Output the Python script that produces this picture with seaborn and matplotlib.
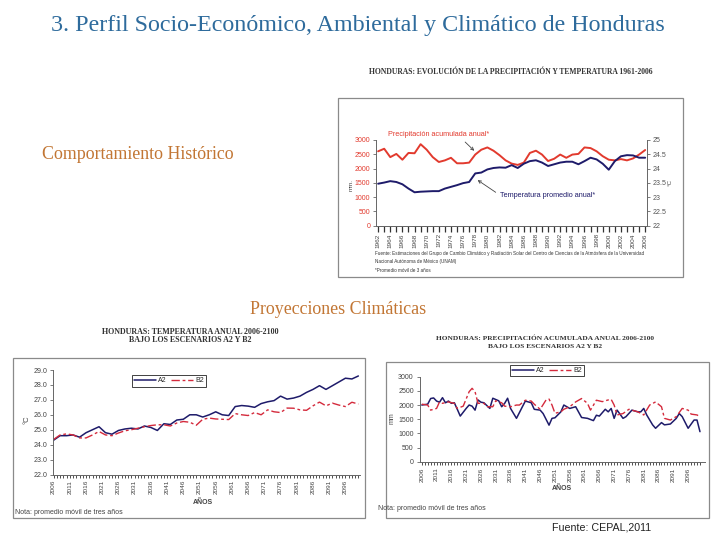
import numpy as np
import pandas as pd
import seaborn as sns
import matplotlib.pyplot as plt
from matplotlib.patches import Rectangle

sns.set_style("white")
plt.rcParams['font.family'] = ['Liberation Sans', 'DejaVu Sans']

# ---------------------------------------------------------------------------
# datos historicos (promedio movil 3 años)
hist_years = list(range(1962, 2007))
hist_precip = [2604, 2694, 2400, 2513, 2310, 2547, 2536, 2853, 2660, 2400,
               2230, 2287, 2377, 2185, 2185, 2208, 2490, 2660, 2740, 2626,
               2468, 2287, 2174, 2128, 2208, 2547, 2626, 2490, 2264, 2343,
               2490, 2377, 2490, 2513, 2740, 2717, 2604, 2434, 2310, 2287,
               2332, 2287, 2355, 2490, 2649]
hist_temp = [23.47, 23.51, 23.56, 23.53, 23.45, 23.30, 23.17, 23.19, 23.20, 23.21,
             23.21, 23.30, 23.36, 23.42, 23.49, 23.53, 23.83, 23.86, 23.97, 24.02,
             24.04, 24.03, 24.12, 24.02, 24.17, 24.26, 24.29, 24.21, 24.09, 24.15,
             24.21, 24.24, 24.24, 24.15, 24.26, 24.38, 24.32, 24.17, 23.96, 24.26,
             24.43, 24.47, 24.46, 24.38, 24.38]

# proyecciones de temperatura 2006-2100
proj_years = list(range(2006, 2101, 2))
temp_a2 = [24.3, 24.6, 24.6, 24.65, 24.5, 24.8, 25.0, 25.2, 24.8, 24.7,
           24.95, 25.05, 25.1, 25.05, 25.25, 25.15, 24.95, 25.4, 25.35, 25.65,
           25.7, 26.0, 26.0, 25.85, 26.0, 26.2, 26.0, 25.95, 26.55, 26.62,
           26.58, 26.5, 26.75, 26.87, 26.95, 27.25, 27.05, 27.12, 27.25, 27.5,
           27.7, 27.95, 27.7, 27.95, 28.2, 28.45, 28.4, 28.6]
temp_b2 = [24.35, 24.65, 24.72, 24.65, 24.45, 24.45, 24.65, 24.88, 24.65, 24.6,
           24.78, 24.93, 25.0, 25.1, 25.2, 25.28, 25.33, 25.33, 25.25, 25.45,
           25.55, 25.5, 25.3, 25.7, 25.78, 25.72, 25.7, 25.68, 26.08, 26.0,
           25.95, 26.15, 26.0, 26.33, 26.2, 26.15, 26.45, 26.44, 26.33, 26.3,
           26.6, 26.85, 26.6, 26.78, 26.65, 26.55, 26.84, 26.72]

# proyecciones de precipitacion 2006-2100
pa2_years = [2006, 2008, 2009, 2010, 2011, 2012, 2013, 2014, 2015, 2016,
             2017, 2018, 2019, 2021, 2022, 2023, 2024, 2025, 2026, 2027,
             2029, 2030, 2032, 2033, 2034, 2035, 2036, 2038, 2040, 2041,
             2043, 2044, 2046, 2047, 2049, 2050, 2051, 2053, 2054, 2056,
             2058, 2060, 2062, 2064, 2065, 2066, 2068, 2069, 2070, 2071,
             2072, 2074, 2075, 2077, 2079, 2080, 2081, 2082, 2084, 2085,
             2087, 2088, 2090, 2092, 2093, 2094, 2096, 2098, 2099, 2100]
precip_a2 = [2000, 2030, 2230, 2250, 2140, 2100, 2260, 2080, 2140, 2060,
             2080, 1850, 1610, 1880, 2000, 1960, 1820, 2180, 2100, 2080,
             1880, 2240, 2150, 1940, 2060, 2240, 1880, 1530, 1940, 2140,
             2080, 1850, 1820, 1700, 1290, 1530, 1550, 1760, 2000, 1880,
             1940, 1560, 1530, 1450, 1640, 1610, 1850, 1760, 1880, 1530,
             1820, 1530, 1590, 1820, 1760, 1760, 1880, 1650, 1300, 1180,
             1380, 1300, 1330, 1530, 1700, 1590, 1180, 1470, 1470, 1060]
pb2_years = [2006, 2008, 2009, 2010, 2011, 2012, 2013, 2015, 2017, 2018,
             2020, 2022, 2023, 2024, 2025, 2027, 2028, 2030, 2031, 2033,
             2034, 2036, 2038, 2039, 2041, 2043, 2044, 2046, 2048, 2049,
             2050, 2051, 2053, 2054, 2056, 2058, 2060, 2062, 2063, 2065,
             2067, 2069, 2070, 2071, 2072, 2074, 2076, 2077, 2079, 2081,
             2083, 2085, 2087, 2088, 2090, 2092, 2094, 2096, 2097, 2099, 2100]
precip_b2 = [2030, 2000, 1820, 1850, 1880, 2110, 2060, 2110, 2060, 1880,
             1960, 2470, 2590, 2470, 2060, 2060, 1940, 1940, 2150, 2080,
             1960, 1940, 2000, 2000, 2170, 2140, 2030, 1850, 2180, 2210,
             2000, 1710, 1760, 1850, 1940, 2110, 2230, 2060, 1820, 2170,
             2120, 2180, 2200, 2000, 1650, 1700, 1850, 1820, 1760, 1650,
             2000, 2110, 1940, 1530, 1470, 1590, 1880, 1820, 1680, 1650, 1590]

# ---------------------------------------------------------------------------
W, H = 720, 540
def px_rect(x0, y0, x1, y1):
    return [x0 / W, 1 - y1 / H, (x1 - x0) / W, (y1 - y0) / H]
def fx(x):
    return x / W
def fy(y):
    return 1 - y / H

red = '#e23a2e'
navy = '#1e1b6a'
b2red = '#d42a3c'
gray = '#666666'
serif = ['Liberation Serif', 'DejaVu Serif']

fig = plt.figure(figsize=(7.2, 5.4), dpi=100)
fig.patch.set_facecolor('white')

def box(x0, y0, x1, y1):
    fig.patches.append(Rectangle((fx(x0), fy(y1)), (x1 - x0) / W, (y1 - y0) / H,
                                 transform=fig.transFigure, fill=False,
                                 edgecolor='#8a8a8a', lw=0.9))

# titulos de la diapositiva
fig.text(fx(358), fy(26), '3. Perfil Socio-Económico, Ambiental y Climático de Honduras',
         family=serif, size=17.3, color='#2e6b9c', ha='center', va='center')
fig.text(fx(42), fy(155), 'Comportamiento Histórico', family=serif, size=12.9,
         color='#c27634', va='center')
fig.text(fx(250), fy(310), 'Proyecciones Climáticas', family=serif, size=12.9,
         color='#c27634', va='center')
fig.text(fx(552), fy(528), 'Fuente: CEPAL,2011', size=7.7, color='#222222', va='center')

# ---------------------------------------------------------------------------
# grafico historico
fig.text(fx(511), fy(72), 'HONDURAS: EVOLUCIÓN DE LA PRECIPITACIÓN Y TEMPERATURA 1961-2006',
         family=serif, weight='bold', size=5.5, ha='center', va='center', color='#333333')
box(337.7, 98.3, 683, 276.7)

ax1 = fig.add_axes(px_rect(375.7, 140, 647, 225.7))
sns.lineplot(x=hist_years, y=hist_precip, ax=ax1, color=red, lw=1.4)
ax1.set_ylim(0, 3000)
ax1.set_xlim(1961.6, 2006.3)
ax1.set_yticks(range(0, 3001, 500))
ax1.tick_params(axis='y', labelsize=5, labelcolor=red, length=2, width=0.6, color=gray, pad=2)
ax1.set_xticks(range(1962, 2007, 2))
ax1.set_xticks(range(1962, 2007), minor=True)
ax1.set_xticklabels([str(y) for y in range(1962, 2007, 2)], rotation=90)
ax1.tick_params(axis='x', which='both', labelsize=4.6, labelcolor='#444444', length=4,
                width=0.9, color='#333333', bottom=True, pad=1.5)
ax2 = ax1.twinx()
sns.lineplot(x=hist_years, y=hist_temp, ax=ax2, color=navy, lw=1.4)
ax2.set_ylim(22, 25)
ax2.set_yticks([22, 22.5, 23, 23.5, 24, 24.5, 25])
ax2.set_yticklabels(['22', '22.5', '23', '23.5', '24', '24.5', '25'])
ax2.tick_params(axis='y', labelsize=5, labelcolor='#555555', length=2, width=0.6,
                color=gray, pad=2)
for a in (ax1, ax2):
    a.set_facecolor('none')
    a.spines['top'].set_visible(False)
    for s in ('left', 'right', 'bottom'):
        a.spines[s].set_color(gray)
        a.spines[s].set_linewidth(0.7)
    a.set_xlabel('')
    a.set_ylabel('')
ax1.spines['right'].set_visible(False)
ax2.spines['left'].set_visible(False)

ax1.annotate('Precipitación acumulada anual*', xy=(1978.0, 2590), xytext=(1963.6, 3200),
             color=red, size=5.2, va='center', annotation_clip=False,
             arrowprops=dict(arrowstyle='->', color='#444444', lw=0.6, relpos=(0.72, 0.0),
                             shrinkA=1, shrinkB=1))
ax1.annotate('Temperatura promedio anual*', xy=(1978.2, 1624), xytext=(1982.1, 1040),
             color=navy, size=5.2, va='center',
             arrowprops=dict(arrowstyle='->', color='#444444', lw=0.6, relpos=(0.0, 0.6),
                             shrinkA=1, shrinkB=1))
fig.text(fx(351), fy(185), 'mm.', rotation=90, size=4.5, ha='center', va='center', color='#444444')
fig.text(fx(670), fy(183), '°C', rotation=90, size=4.5, ha='center', va='center', color='#444444')
fig.text(fx(375), fy(254), 'Fuente: Estimaciones del Grupo de Cambio Climático y Radiación Solar del '
         'Centro de Ciencias de la Atmósfera de la Universidad', size=3.3, va='center', color='#333333')
fig.text(fx(375), fy(262), 'Nacional Autónoma de México (UNAM)', size=3.3, va='center', color='#333333')
fig.text(fx(375), fy(270), '*Promedio móvil de 3 años', size=3.3, va='center', color='#333333')

# ---------------------------------------------------------------------------
# proyeccion de temperatura
fig.text(fx(190), fy(332), 'HONDURAS: TEMPERATURA ANUAL 2006-2100', family=serif,
         weight='bold', size=5.8, ha='center', va='center', color='#333333')
fig.text(fx(190), fy(340), 'BAJO LOS ESCENARIOS A2 Y B2', family=serif,
         weight='bold', size=5.8, ha='center', va='center', color='#333333')
box(13.3, 358.3, 365, 517.7)

ax3 = fig.add_axes(px_rect(53.3, 370, 360, 474.5))
sns.lineplot(x=proj_years, y=temp_a2, ax=ax3, color=navy, lw=1.1, label='A2')
sns.lineplot(x=proj_years, y=temp_b2, ax=ax3, color=b2red, lw=1.0,
             linestyle=(0, (6, 2, 2, 2)), label='B2')
ax3.set_ylim(22, 29)
ax3.set_xlim(2005.9, 2100.5)
ax3.set_yticks(range(22, 30))
ax3.set_yticklabels(['%.1f' % v for v in range(22, 30)])
ax3.set_xticks(range(2006, 2100, 5))
ax3.set_xticks(range(2006, 2101), minor=True)
ax3.set_xticklabels([str(y) for y in range(2006, 2100, 5)], rotation=90)
ax3.tick_params(axis='y', labelsize=5, labelcolor='#444444', length=2.5, width=0.6,
                color=gray, left=True, pad=2)
ax3.tick_params(axis='x', which='both', labelsize=4.6, labelcolor='#444444', length=2.5,
                width=0.6, color='#333333', bottom=True, pad=1.5)
ax3.legend(loc='center', bbox_to_anchor=(fx(169), fy(381)), bbox_transform=fig.transFigure,
           ncol=2, fontsize=5, frameon=True, fancybox=False, edgecolor='#222222',
           handlelength=3.2, borderpad=0.3, columnspacing=0.6, handletextpad=0.3,
           framealpha=1).get_frame().set_linewidth(0.6)
fig.text(fx(27), fy(420), '°C', rotation=90, size=5.5, ha='center', va='center', color='#444444')
fig.text(fx(203), fy(503), 'AÑOS', weight='bold', size=5, ha='center', va='center', color='#444444')
fig.text(fx(15), fy(512), 'Nota: promedio móvil de tres años', size=5, va='center', color='#444444')

# ---------------------------------------------------------------------------
# proyeccion de precipitacion
fig.text(fx(545), fy(338), 'HONDURAS: PRECIPITACIÓN ACUMULADA ANUAL 2006-2100', family=serif,
         weight='bold', size=5.3, ha='center', va='center', color='#333333')
fig.text(fx(545), fy(346.5), 'BAJO LOS ESCENARIOS A2 Y B2', family=serif,
         weight='bold', size=5.3, ha='center', va='center', color='#333333')
box(386, 362, 709, 518)

ax4 = fig.add_axes(px_rect(420, 376.7, 705, 461.7))
sns.lineplot(x=pa2_years, y=precip_a2, ax=ax4, color=navy, lw=1.1, label='A2')
sns.lineplot(x=pb2_years, y=precip_b2, ax=ax4, color=b2red, lw=1.0,
             linestyle=(0, (6, 2, 2, 2)), label='B2')
ax4.set_ylim(0, 3000)
ax4.set_xlim(2005.4, 2101.7)
ax4.set_yticks(range(0, 3001, 500))
ax4.set_xticks(range(2006, 2100, 5))
ax4.set_xticks(range(2006, 2101), minor=True)
ax4.set_xticklabels([str(y) for y in range(2006, 2100, 5)], rotation=90)
ax4.tick_params(axis='y', labelsize=5, labelcolor='#444444', length=2.5, width=0.6,
                color=gray, left=True, pad=2)
ax4.tick_params(axis='x', which='both', labelsize=4.6, labelcolor='#444444', length=2.5,
                width=0.6, color='#333333', bottom=True, pad=1.5)
ax4.legend(loc='center', bbox_to_anchor=(fx(547), fy(370.5)), bbox_transform=fig.transFigure,
           ncol=2, fontsize=5, frameon=True, fancybox=False, edgecolor='#222222',
           handlelength=3.2, borderpad=0.25, columnspacing=0.6, handletextpad=0.3,
           framealpha=1).get_frame().set_linewidth(0.6)
fig.text(fx(392), fy(418), 'mm', rotation=90, size=5, ha='center', va='center', color='#444444')
fig.text(fx(562), fy(489), 'AÑOS', weight='bold', size=5, ha='center', va='center', color='#444444')
fig.text(fx(378), fy(508), 'Nota: promedio móvil de tres años', size=5, va='center', color='#444444')

for a in (ax3, ax4):
    a.set_facecolor('none')
    a.spines['top'].set_visible(False)
    a.spines['right'].set_visible(False)
    for s in ('left', 'bottom'):
        a.spines[s].set_color(gray)
        a.spines[s].set_linewidth(0.7)
    a.set_xlabel('')
    a.set_ylabel('')

fig.savefig('out.png', dpi=100)
